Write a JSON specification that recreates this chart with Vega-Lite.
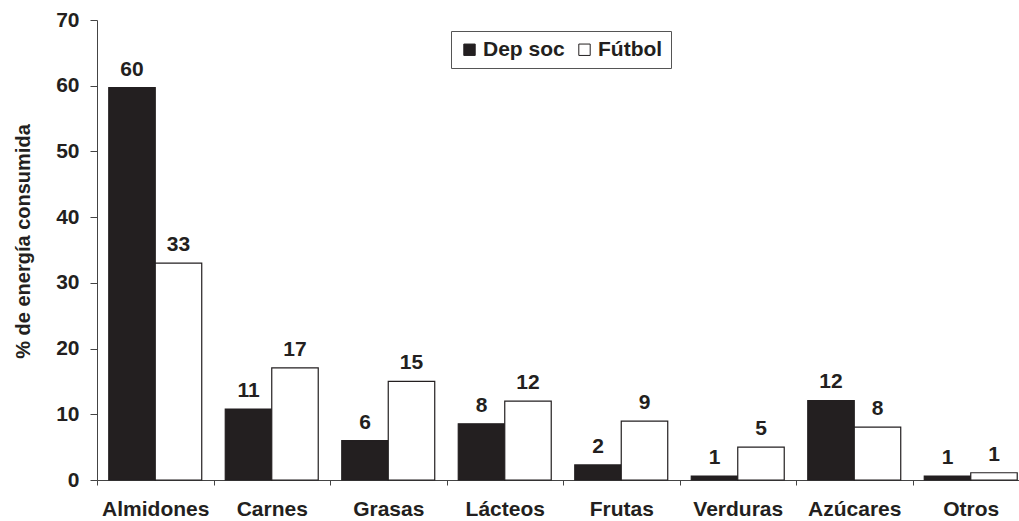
{
  "$schema": "https://vega.github.io/schema/vega-lite/v6.json",
  "width": 922,
  "height": 460,
  "autosize": {"type": "none"},
  "padding": {"left": 97, "top": 20, "right": 0, "bottom": 41},
  "background": "#ffffff",
  "config": {
    "view": {"stroke": null},
    "font": "Liberation Sans"
  },
  "data": {
    "values": [
      {"alimento": "Almidones", "grupo": "Dep soc", "valor": 59.7, "etiqueta": "60"},
      {"alimento": "Almidones", "grupo": "Fútbol", "valor": 33.0, "etiqueta": "33"},
      {"alimento": "Carnes", "grupo": "Dep soc", "valor": 10.8, "etiqueta": "11"},
      {"alimento": "Carnes", "grupo": "Fútbol", "valor": 17.05, "etiqueta": "17"},
      {"alimento": "Grasas", "grupo": "Dep soc", "valor": 6.0, "etiqueta": "6"},
      {"alimento": "Grasas", "grupo": "Fútbol", "valor": 15.0, "etiqueta": "15"},
      {"alimento": "Lácteos", "grupo": "Dep soc", "valor": 8.55, "etiqueta": "8"},
      {"alimento": "Lácteos", "grupo": "Fútbol", "valor": 12.0, "etiqueta": "12"},
      {"alimento": "Frutas", "grupo": "Dep soc", "valor": 2.3, "etiqueta": "2"},
      {"alimento": "Frutas", "grupo": "Fútbol", "valor": 8.95, "etiqueta": "9"},
      {"alimento": "Verduras", "grupo": "Dep soc", "valor": 0.6, "etiqueta": "1"},
      {"alimento": "Verduras", "grupo": "Fútbol", "valor": 5.0, "etiqueta": "5"},
      {"alimento": "Azúcares", "grupo": "Dep soc", "valor": 12.1, "etiqueta": "12"},
      {"alimento": "Azúcares", "grupo": "Fútbol", "valor": 8.05, "etiqueta": "8"},
      {"alimento": "Otros", "grupo": "Dep soc", "valor": 0.6, "etiqueta": "1"},
      {"alimento": "Otros", "grupo": "Fútbol", "valor": 1.1, "etiqueta": "1"}
    ]
  },
  "encoding": {
    "x": {
      "field": "alimento",
      "type": "nominal",
      "sort": null,
      "scale": {"range": [0, 932], "paddingInner": 0, "paddingOuter": 0},
      "axis": {
        "title": null,
        "labelAngle": 0,
        "tickBand": "extent",
        "tickSize": 5,
        "tickColor": "#444444",
        "domainColor": "#444444",
        "labelFont": "Liberation Sans",
        "labelFontSize": 21,
        "labelFontWeight": "bold",
        "labelColor": "#231f20",
        "labelBaseline": "alphabetic",
        "labelPadding": 30,
        "labelOverlap": false
      }
    },
    "xOffset": {
      "field": "grupo",
      "type": "nominal",
      "sort": ["Dep soc", "Fútbol"],
      "scale": {"paddingInner": 0, "paddingOuter": 0.253}
    },
    "y": {
      "field": "valor",
      "type": "quantitative",
      "scale": {"domain": [0, 70], "nice": false},
      "axis": {
        "values": [0, 10, 20, 30, 40, 50, 60, 70],
        "grid": false,
        "tickSize": 7,
        "tickColor": "#444444",
        "domainColor": "#444444",
        "labelFont": "Liberation Sans",
        "labelFontSize": 21,
        "labelFontWeight": "bold",
        "labelColor": "#231f20",
        "labelPadding": 11,
        "title": "% de energía consumida",
        "titleFont": "Liberation Sans",
        "titleFontSize": 20,
        "titleFontWeight": "bold",
        "titleColor": "#231f20",
        "titleAngle": -90,
        "titleAlign": "center",
        "titleBaseline": "alphabetic",
        "titleX": -68,
        "titleY": 221
      }
    }
  },
  "layer": [
    {
      "mark": {"type": "bar", "stroke": "#231f20", "strokeWidth": 1.2},
      "encoding": {
        "fill": {
          "field": "grupo",
          "type": "nominal",
          "scale": {"domain": ["Dep soc", "Fútbol"], "range": ["#231f20", "#ffffff"]},
          "legend": {
            "title": null,
            "orient": "none",
            "direction": "horizontal",
            "legendX": 354,
            "legendY": 11,
            "padding": 8,
            "strokeColor": "#555555",
            "fillColor": "#ffffff",
            "symbolType": "square",
            "symbolSize": 130,
            "symbolStrokeColor": "#231f20",
            "symbolStrokeWidth": 1,
            "symbolOpacity": 1,
            "labelFont": "Liberation Sans",
            "labelFontSize": 21,
            "labelFontWeight": "bold",
            "labelColor": "#231f20",
            "labelOffset": 3,
            "columnPadding": 9
          }
        }
      }
    },
    {
      "mark": {
        "type": "text",
        "dy": -12,
        "baseline": "alphabetic",
        "align": "center",
        "font": "Liberation Sans",
        "fontSize": 21,
        "fontWeight": "bold",
        "color": "#231f20"
      },
      "encoding": {
        "text": {"field": "etiqueta", "type": "nominal"}
      }
    }
  ]
}
